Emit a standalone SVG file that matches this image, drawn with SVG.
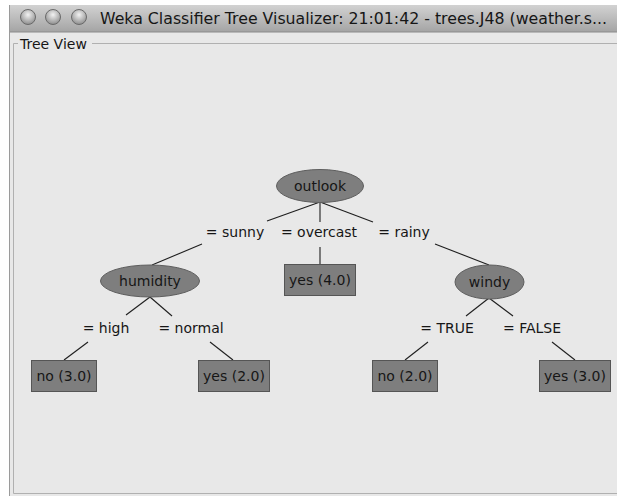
<svg xmlns="http://www.w3.org/2000/svg" width="617" height="496" viewBox="0 0 617 496">
<defs>
<linearGradient id="tb" x1="0" y1="0" x2="0" y2="1">
<stop offset="0" stop-color="#d2d2d2"/>
<stop offset="1" stop-color="#a4a4a4"/>
</linearGradient>
<radialGradient id="btn" cx="0.5" cy="0.35" r="0.6">
<stop offset="0" stop-color="#f2f2f2"/>
<stop offset="1" stop-color="#959595"/>
</radialGradient>
<style>
.t{font-family:"DejaVu Sans","Liberation Sans",sans-serif;font-size:14px;fill:#161616;text-anchor:middle}
.node{fill:#7e7e7e;stroke:#5e5e5e;stroke-width:1}
.leaf{fill:#7e7e7e;stroke:#555;stroke-width:1}
.e{stroke:#1e1e1e;stroke-width:1.1;fill:none}
</style>
</defs>
<rect width="617" height="496" fill="#ffffff"/>
<rect x="9" y="5" width="608" height="491" fill="#e8e8e8"/>
<rect x="9" y="5" width="608" height="27" fill="url(#tb)"/>
<line x1="9" y1="32" x2="617" y2="32" stroke="#8a8a8a"/>
<line x1="9.5" y1="5" x2="9.5" y2="496" stroke="#9a9a9a"/>
<circle cx="28" cy="17" r="7.5" fill="url(#btn)" stroke="#6a6a6a"/>
<circle cx="53" cy="17" r="7.5" fill="url(#btn)" stroke="#6a6a6a"/>
<circle cx="79" cy="17" r="7.5" fill="url(#btn)" stroke="#6a6a6a"/>
<text x="100" y="23.5" font-family="'DejaVu Sans','Liberation Sans',sans-serif" font-size="16" fill="#161616" textLength="507" lengthAdjust="spacingAndGlyphs">Weka Classifier Tree Visualizer: 21:01:42 - trees.J48 (weather.s...</text>
<path d="M18 43.5 H13.5 V493.5 H617 M92 43.5 H617" fill="none" stroke="#b0b0b0"/>
<text x="20" y="48.5" font-family="'DejaVu Sans','Liberation Sans',sans-serif" font-size="14" fill="#161616">Tree View</text>

<g id="connectors">
<line class="e" x1="320" y1="202" x2="267" y2="221"/>
<line class="e" x1="320" y1="202" x2="320" y2="222"/>
<line class="e" x1="320" y1="202" x2="373" y2="222"/>
<line class="e" x1="202" y1="244" x2="152" y2="265"/>
<line class="e" x1="320" y1="247" x2="320" y2="264"/>
<line class="e" x1="435" y1="244" x2="489" y2="265"/>
<line class="e" x1="150" y1="297" x2="126" y2="315"/>
<line class="e" x1="150" y1="297" x2="172" y2="316"/>
<line class="e" x1="88" y1="342" x2="64" y2="360"/>
<line class="e" x1="210" y1="342" x2="233" y2="360"/>
<line class="e" x1="489" y1="298" x2="466" y2="316"/>
<line class="e" x1="489" y1="298" x2="513" y2="316"/>
<line class="e" x1="428" y1="342" x2="405" y2="360"/>
<line class="e" x1="552" y1="342" x2="575" y2="360"/>
<text class="t" x="235" y="237">= sunny</text>
<text class="t" x="319" y="237">= overcast</text>
<text class="t" x="404" y="237">= rainy</text>
<text class="t" x="106" y="333">= high</text>
<text class="t" x="191" y="333">= normal</text>
<text class="t" x="447" y="333">= TRUE</text>
<text class="t" x="532" y="333">= FALSE</text>
</g>

<g id="outlook"><ellipse class="node" cx="320" cy="186" rx="43.5" ry="16.5"/><text class="t" x="320" y="191">outlook</text></g>
<g id="humidity"><ellipse class="node" cx="150" cy="281" rx="49.5" ry="16"/><text class="t" x="150" y="286">humidity</text></g>
<g id="windy"><ellipse class="node" cx="489.5" cy="282" rx="34.5" ry="17"/><text class="t" x="489.5" y="287">windy</text></g>
<g id="yes4"><rect class="leaf" x="284.5" y="264.5" width="71" height="31"/><text class="t" x="320" y="285">yes (4.0)</text></g>
<g id="no3"><rect class="leaf" x="31.5" y="360.5" width="65" height="31"/><text class="t" x="64" y="381">no (3.0)</text></g>
<g id="yes2"><rect class="leaf" x="198.5" y="360.5" width="71" height="31"/><text class="t" x="234" y="381">yes (2.0)</text></g>
<g id="no2"><rect class="leaf" x="372.5" y="360.5" width="65" height="31"/><text class="t" x="405" y="381">no (2.0)</text></g>
<g id="yes3"><rect class="leaf" x="539.5" y="360.5" width="71" height="31"/><text class="t" x="575" y="381">yes (3.0)</text></g>
</svg>
